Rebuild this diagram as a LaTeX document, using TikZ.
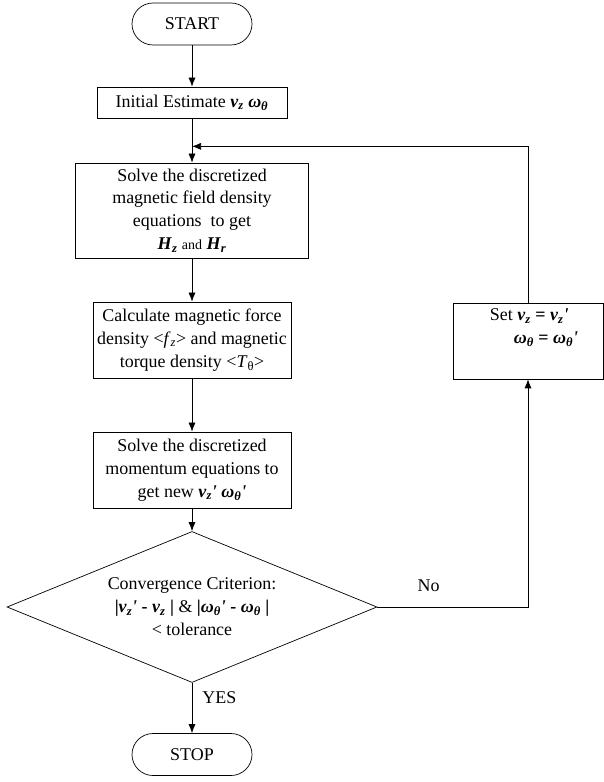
\documentclass[tikz,border=0pt]{standalone}
\usepackage{fontspec}
\setmainfont{Liberation Serif}
\usetikzlibrary{shapes.geometric,positioning,arrows.meta}
\newcommand{\bi}[2]{\textbf{\textit{#1}}\textsubscript{\textbf{\textit{#2}}}}
\newcommand{\pr}{\textbf{\textit{\textquotesingle}}}

\begin{document}
\begin{tikzpicture}[
  x=1bp, y=1bp,
  >={Latex[length=9bp,width=7bp]}, line width=0.7bp,
  every node/.style={
    font=\fontsize{18}{23}\selectfont,
    align=center, inner sep=0pt},
  term/.style={draw,rounded corners=21bp,minimum width=120bp,minimum height=42bp},
  proc/.style={draw,minimum width=198bp,minimum height=76bp},
  test/.style={draw,diamond,aspect=2.45,minimum width=370bp,minimum height=151bp},
  lab/.style={draw=none}]

  \useasboundingbox (0,0) rectangle (604,782);

  \node[term] (start) at (192,758) {START};
  \node[proc, below of=start, node distance=78.5bp,
        minimum width=190bp, minimum height=31bp] (init)
        {Initial Estimate \bi{v}{z} \bi{ω}{θ}};
  \node[proc, below of=init, node distance=108bp,
        minimum width=233bp, minimum height=95bp] (solve)
        {Solve the discretized\\magnetic field density\\equations~ to get\\
         \bi{H}{z} {\fontsize{14}{16}\selectfont and} \bi{H}{r}};
  \node[proc, below of=solve, node distance=129.5bp] (force)
        {Calculate magnetic force\\density <\textit{f}\textsubscript{\textit{z}}> and magnetic\\
         torque density <\textit{T}\textsubscript{θ}>};
  \node[proc, below of=force, node distance=130bp] (moment)
        {Solve the discretized\\momentum equations to\\get new \bi{v}{z}\pr{} \bi{ω}{θ}\pr};
  \node[test, below of=moment, node distance=137bp] (conv)
        {Convergence Criterion:\\
         \textbf{|}\bi{v}{z}\pr{} \textbf{-} \bi{v}{z} \textbf{|} \& \textbf{|}\bi{ω}{θ}\pr{} \textbf{-} \bi{ω}{θ} \textbf{|}\\
         < tolerance};
  \node[term, below of=conv, node distance=147.5bp] (stop) {STOP};
  \node[proc, minimum width=150bp, align=left] (set) at (528,441)
        {\hspace*{12bp}Set \bi{v}{z} \textbf{=} \bi{v}{z}\pr\\
         \hspace*{36bp}\bi{ω}{θ} \textbf{=} \bi{ω}{θ}\pr\\ \strut};

  \coordinate (join) at ([yshift=-28bp]init.south);

  \draw[->] (start) -- (init);
  \draw[->] (init) -- (solve);
  \draw[->] (solve) -- (force);
  \draw[->] (force) -- (moment);
  \draw[->] (moment) -- (conv);
  \draw[->] (conv) -- node[lab, pos=0.3, right=10bp] {YES} (stop);
  \draw[->] (conv.east) -| node[lab, pos=0.17, above=15bp] {No} (set.south);
  \draw[->] (set.north) |- (join);
\end{tikzpicture}
\end{document}
